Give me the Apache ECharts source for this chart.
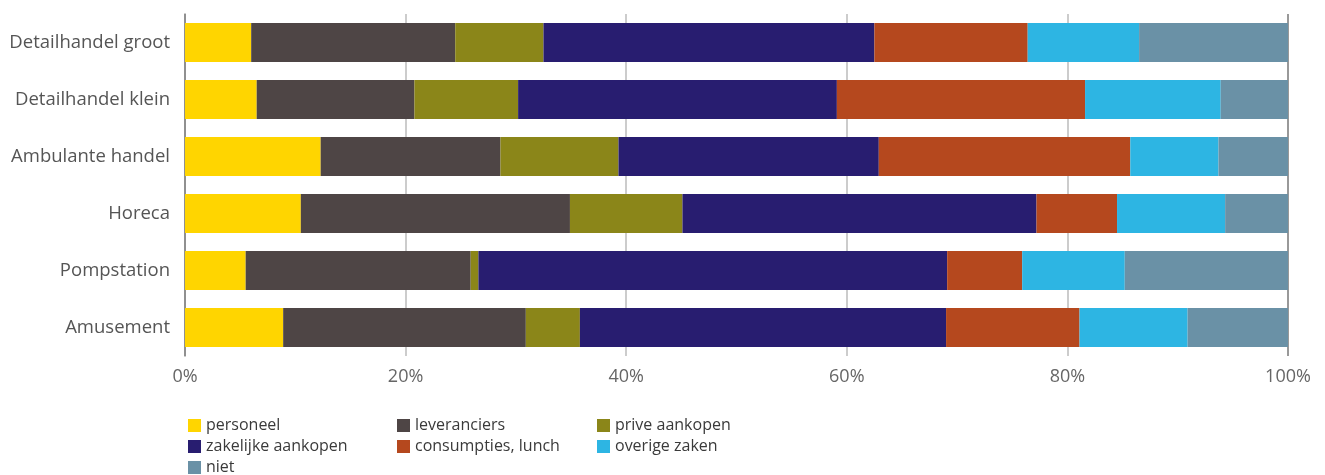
<!DOCTYPE html>
<html>
<head>
<meta charset="utf-8">
<script src="https://cdn.jsdelivr.net/npm/echarts@6/dist/echarts.min.js"></script>
<style>
  html, body { margin: 0; padding: 0; background: #fff; }
  #chart { width: 1325px; height: 475px; }
</style>
</head>
<body>
<div id="chart"></div>
<script>
// Sectors, top to bottom
const categories = ['Detailhandel groot', 'Detailhandel klein', 'Ambulante handel', 'Horeca', 'Pompstation', 'Amusement'];

// Share per spending category (%), same order as categories
const personeel        = [6.0, 6.5, 12.3, 10.5, 5.5, 8.9];
const leveranciers     = [18.5, 14.3, 16.3, 24.4, 20.4, 22.0];
const priveAankopen    = [8.0, 9.4, 10.7, 10.2, 0.7, 4.9];
const zakelijkeAankopen= [30.0, 28.9, 23.6, 32.1, 42.5, 33.2];
const consumpties      = [13.9, 22.5, 22.8, 7.3, 6.8, 12.1];
const overigeZaken     = [10.1, 12.3, 8.0, 9.8, 9.3, 9.8];
const niet             = [13.5, 6.1, 6.3, 5.7, 14.8, 9.1];

const xTicks = ['0%', '20%', '40%', '60%', '80%', '100%'];

const seriesDefs = [
  { name: 'personeel',          data: personeel,         color: '#FFD500' },
  { name: 'leveranciers',       data: leveranciers,      color: '#4E4545' },
  { name: 'prive aankopen',     data: priveAankopen,     color: '#8B8619' },
  { name: 'zakelijke aankopen', data: zakelijkeAankopen, color: '#281D70' },
  { name: 'consumpties, lunch', data: consumpties,       color: '#B5481E' },
  { name: 'overige zaken',      data: overigeZaken,      color: '#2DB5E3' },
  { name: 'niet',               data: niet,              color: '#6A91A6' }
];

const font = '"Open Sans", "Noto Sans", sans-serif';

// Three legend columns, each a vertical list
const legendBase = {
  orient: 'vertical',
  top: 417,
  height: 80,
  itemWidth: 13,
  itemHeight: 13,
  itemGap: 4,
  icon: 'rect',
  textStyle: { fontFamily: font, fontSize: 16, color: '#3a3a3a', lineHeight: 17 },
  padding: 0
};

const chart = echarts.init(document.getElementById('chart'), null, { renderer: 'canvas' });
chart.setOption({
  animation: false,
  backgroundColor: '#fff',
  grid: { left: 185, right: 37, top: 14, height: 342, containLabel: false },
  xAxis: {
    type: 'value',
    min: 0,
    max: 100,
    interval: 20,
    axisLine: { show: false },
    axisTick: { show: false },
    axisLabel: {
      fontFamily: font,
      fontSize: 18,
      color: '#666',
      margin: 12,
      formatter: (v) => xTicks[Math.round(v / 20)]
    },
    splitLine: {
      show: true,
      lineStyle: { color: ['#888', '#bbb', '#bbb', '#bbb', '#bbb', '#777'], width: 1.5 }
    }
  },
  yAxis: {
    type: 'category',
    data: categories,
    inverse: true,
    axisLine: { show: true, lineStyle: { color: '#888', width: 1.5 } },
    axisTick: { show: false },
    axisLabel: { fontFamily: font, fontSize: 18.5, color: '#555', margin: 15 }
  },
  legend: [
    Object.assign({}, legendBase, { left: 188, data: ['personeel', 'zakelijke aankopen', 'niet'] }),
    Object.assign({}, legendBase, { left: 397, data: ['leveranciers', 'consumpties, lunch'] }),
    Object.assign({}, legendBase, { left: 597, data: ['prive aankopen', 'overige zaken'] })
  ],
  series: seriesDefs.map(s => ({
    name: s.name,
    type: 'bar',
    stack: 'total',
    data: s.data,
    barCategoryGap: '31.6%',
    itemStyle: { color: s.color },
    emphasis: { disabled: true }
  }))
});
</script>
</body>
</html>
